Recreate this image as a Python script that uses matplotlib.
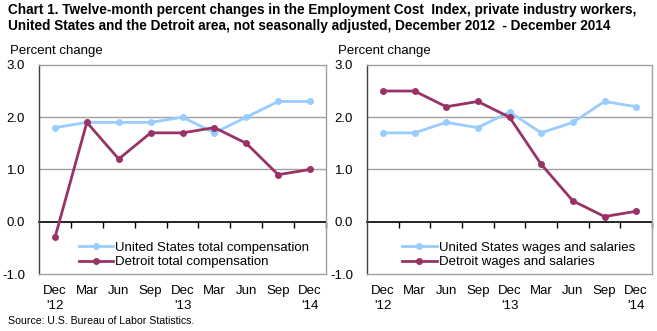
import matplotlib
matplotlib.use('Agg')
import matplotlib.pyplot as plt

# data
months = ["Dec\n'12", "Mar", "Jun", "Sep", "Dec\n'13", "Mar", "Jun", "Sep", "Dec\n'14"]
us_comp = [1.8, 1.9, 1.9, 1.9, 2.0, 1.7, 2.0, 2.3, 2.3]
det_comp = [-0.3, 1.9, 1.2, 1.7, 1.7, 1.8, 1.5, 0.9, 1.0]
us_wages = [1.7, 1.7, 1.9, 1.8, 2.1, 1.7, 1.9, 2.3, 2.2]
det_wages = [2.5, 2.5, 2.2, 2.3, 2.0, 1.1, 0.4, 0.1, 0.2]
yticks = [-1.0, 0.0, 1.0, 2.0, 3.0]

plt.rcParams['font.family'] = ['Liberation Sans', 'DejaVu Sans']

US_COLOR = '#99CCFF'
DET_COLOR = '#993366'

fig = plt.figure(figsize=(6.57, 3.31), dpi=100)

fig.text(0.012, 0.99,
         "Chart 1. Twelve-month percent changes in the Employment Cost  Index, private industry workers,\n"
         "United States and the Detroit area, not seasonally adjusted, December 2012  - December 2014",
         fontweight='bold', fontsize=9.85, va='top', ha='left', linespacing=1.15)
fig.text(0.012, 0.015, "Source: U.S. Bureau of Labor Statistics.", fontsize=7.6, ha='left', va='bottom')


def panel(rect, us, det, us_label, det_label):
    ax = fig.add_axes(rect)
    x = list(range(len(months)))
    ax.plot(x, us, color=US_COLOR, lw=2, marker='o', ms=4, label=us_label, zorder=3)
    ax.plot(x, det, color=DET_COLOR, lw=2, marker='o', ms=4, label=det_label, zorder=4)
    ax.set_xlim(-0.5, len(months) - 0.5)
    ax.set_ylim(-1, 3)
    ax.set_yticks(yticks)
    ax.set_yticklabels(['%.1f' % v for v in yticks])
    ax.set_xticks(x)
    ax.set_xticklabels(months, linespacing=1.35)
    ax.tick_params(axis='both', length=0, labelsize=9.5)
    ax.tick_params(axis='y', pad=10)
    ax.tick_params(axis='x', pad=8)
    for g in [1.0, 2.0]:
        ax.axhline(g, color='#A0A0A0', lw=1, zorder=1)
    for s in ax.spines.values():
        s.set_color('#A0A0A0')
        s.set_linewidth(1)
    ax.spines['left'].set_color('#404040')
    # zero line with category boundary ticks
    sec = ax.secondary_xaxis(0.25)
    sec.set_xticks([i + 0.5 for i in x])
    sec.tick_params(axis='x', length=4, width=1, color='black', labelbottom=False, direction='out')
    sec.spines['bottom'].set_color('black')
    sec.spines['bottom'].set_linewidth(1.2)
    ax.text(-0.1, 1.04, 'Percent change', transform=ax.transAxes, fontsize=9.5, ha='left', va='bottom')
    ax.legend(loc='lower right', bbox_to_anchor=(0.97, -0.01), frameon=False, fontsize=9.5,
              handlelength=2.6, handletextpad=0.2, labelspacing=0.15, borderaxespad=0.2)
    return ax


panel([0.0594, 0.172, 0.4368, 0.632], us_comp, det_comp,
      'United States total compensation', 'Detroit total compensation')
panel([0.5586, 0.172, 0.4338, 0.632], us_wages, det_wages,
      'United States wages and salaries', 'Detroit wages and salaries')

fig.savefig('out.png', dpi=100)
